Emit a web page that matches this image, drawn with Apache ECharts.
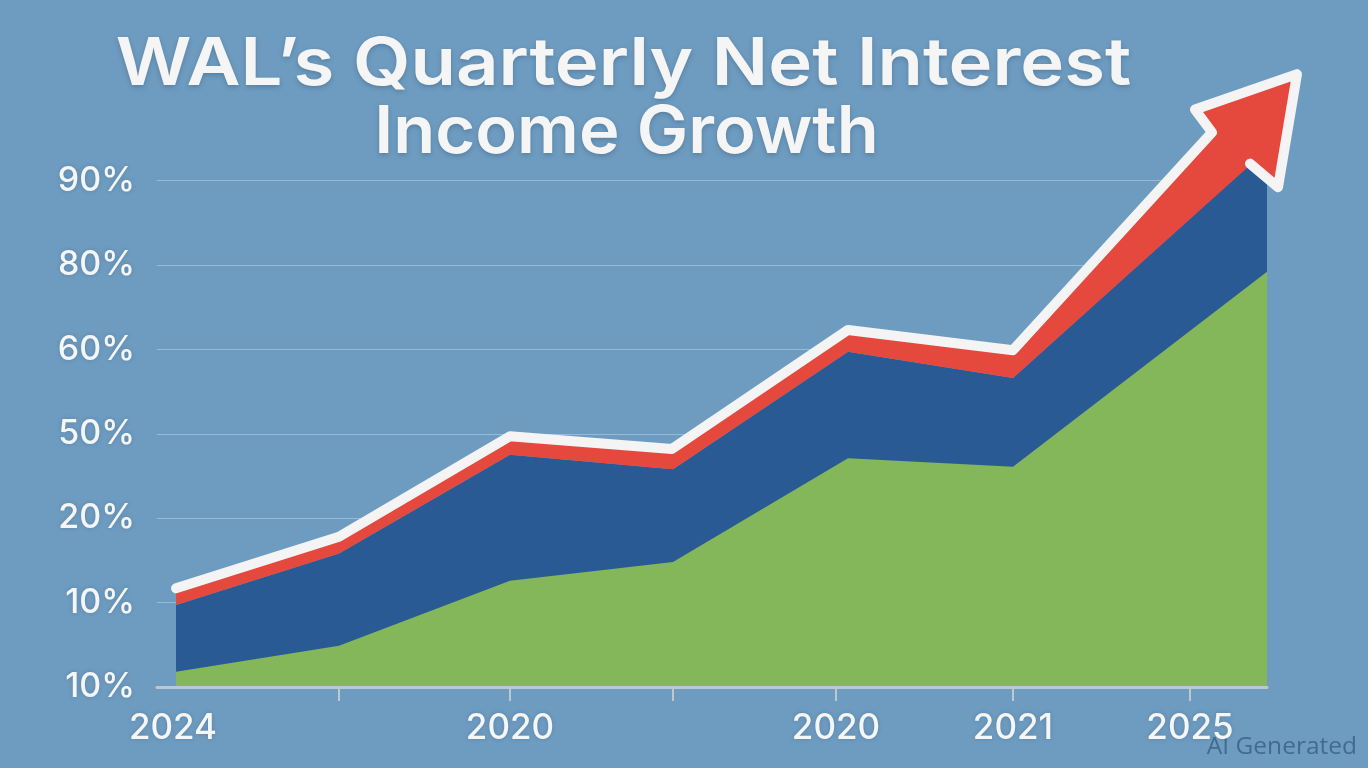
<!DOCTYPE html>
<html lang="en">

<head>
    <meta charset="UTF-8">
    <title>WAL's Quarterly Net Interest Income Growth</title>
    <script src="https://cdn.jsdelivr.net/npm/echarts@6/dist/echarts.min.js"></script>
    <style>
        html, body { margin: 0; padding: 0; background: #6e9cc0; }
    </style>
</head>

<body>
    <div id="main" style="width:1368px;height:768px"></div>
    <script>
        // y axis is evenly spaced but its labels are not, so values are in tick steps
        var yTickLabels = ['10%', '10%', '20%', '50%', '60%', '80%', '90%'];
        var xTickValues = [1.82, 3.53, 5.16, 6.79, 8.56, 10.33];
        var xLabelValues = [0.16, 3.53, 6.79, 8.56, 10.33];
        var xLabelTexts = ['2024', '2020', '2020', '2021', '2025'];

        var greenX = [0.19, 1.82, 3.53, 5.16, 6.91, 8.56, 11.10];
        var greenY = [0.18, 0.49, 1.26, 1.48, 2.71, 2.61, 4.92];
        var blueY = [0.97, 1.58, 2.75, 2.58, 3.97, 3.66, 6.37];

        // white outline: along the shaft, then round the arrow head
        var arrowX = [0.19, 1.82, 3.53, 5.15, 6.91, 8.56, 10.55, 10.38, 11.40, 11.21, 10.93];
        var arrowY = [1.17, 1.78, 2.97, 2.82, 4.23, 3.99, 6.57, 6.84, 7.26, 5.92, 6.20];
        // red underside back to the start
        var redEdgeX = [10.91, 8.56, 6.91, 5.16, 3.53, 1.82, 0.19];
        var redEdgeY = [6.16, 3.66, 3.97, 2.58, 2.75, 1.58, 0.97];

        function zip(xs, ys) {
            var out = [];
            for (var i = 0; i < xs.length; i++) {
                out.push([xs[i], ys[i]]);
            }
            return out;
        }

        var labelFont = 'Inter';
        var labelShadow = {
            color: '#f5f6f7',
            fontFamily: labelFont,
            fontWeight: 500,
            textShadowColor: 'rgba(30,60,90,0.25)',
            textShadowBlur: 4
        };

        // red fill and white outline go past the axis ends, so both are custom shapes
        function drawRed(params, api) {
            if (params.dataIndex !== 0) {
                return;
            }
            var pts = zip(arrowX.concat(redEdgeX), arrowY.concat(redEdgeY)).map(function (p) {
                return api.coord(p);
            });
            return {
                type: 'polygon',
                shape: { points: pts },
                style: { fill: '#e5493e' }
            };
        }

        function drawOutline(params, api) {
            if (params.dataIndex !== 0) {
                return;
            }
            var pts = zip(arrowX, arrowY).map(function (p) {
                return api.coord(p);
            });
            return {
                type: 'polyline',
                shape: { points: pts },
                style: {
                    fill: null,
                    stroke: '#f4f4f4',
                    lineWidth: 10,
                    lineCap: 'round',
                    lineJoin: 'round'
                }
            };
        }

        // title lines are stretched on their own, the first is much wider than the font
        function titleLine(text, x, y, scaleX) {
            return {
                type: 'text',
                x: x,
                y: y,
                scaleX: scaleX,
                z: 10,
                style: {
                    text: text,
                    textAlign: 'center',
                    textVerticalAlign: 'middle',
                    fill: '#f5f5f5',
                    font: '600 66px Inter',
                    textShadowColor: 'rgba(30,60,90,0.3)',
                    textShadowBlur: 5,
                    textShadowOffsetY: 2
                }
            };
        }

        var myChart = echarts.init(document.getElementById('main'));
        var option = {
            animation: false,
            backgroundColor: '#6e9cc0',
            title: {
                text: 'AI Generated',
                right: 6,
                top: 730,
                textStyle: {
                    color: 'rgba(45,85,130,0.7)',
                    fontFamily: 'Open Sans',
                    fontSize: 24.5,
                    fontWeight: 400
                }
            },
            graphic: [
                titleLine('WAL\u2019s Quarterly Net Interest', 623.5, 65, 1.125),
                titleLine('Income Growth', 626.5, 133, 1.04)
            ],
            grid: {
                left: 157,
                width: 1110,
                top: 180.5,
                height: 506.5
            },
            xAxis: {
                type: 'value',
                min: 0,
                max: 11.1,
                z: 6,
                splitLine: { show: false },
                axisLine: {
                    show: true,
                    onZero: false,
                    lineStyle: { color: '#bcc8cf', width: 3 }
                },
                axisTick: {
                    show: true,
                    customValues: xTickValues,
                    length: 14,
                    lineStyle: { color: '#bcc8cf', width: 2 }
                },
                axisLabel: Object.assign({
                    customValues: xLabelValues,
                    margin: 24,
                    fontSize: 35,
                    formatter: function (value) {
                        return xLabelTexts[xLabelValues.indexOf(value)];
                    }
                }, labelShadow)
            },
            yAxis: {
                type: 'value',
                min: 0,
                max: 6,
                interval: 1,
                axisLine: { show: false },
                axisTick: { show: false },
                splitLine: {
                    lineStyle: { color: 'rgba(255,255,255,0.3)', width: 1 }
                },
                axisLabel: Object.assign({
                    margin: 22,
                    fontSize: 34,
                    formatter: function (value) {
                        return yTickLabels[value];
                    }
                }, labelShadow)
            },
            series: [
                {
                    name: 'Blue',
                    type: 'line',
                    clip: false,
                    z: 2,
                    symbol: 'none',
                    lineStyle: { width: 0 },
                    areaStyle: { color: '#2a5a94', opacity: 1 },
                    data: zip(greenX, blueY)
                },
                {
                    name: 'Green',
                    type: 'line',
                    clip: false,
                    z: 3,
                    symbol: 'none',
                    lineStyle: { width: 0 },
                    areaStyle: { color: '#84b75a', opacity: 1 },
                    data: zip(greenX, greenY)
                },
                {
                    name: 'Red',
                    type: 'custom',
                    clip: false,
                    z: 4,
                    data: zip(arrowX.concat(redEdgeX), arrowY.concat(redEdgeY)),
                    encode: { x: 0, y: 1 },
                    renderItem: drawRed
                },
                {
                    name: 'Outline',
                    type: 'custom',
                    clip: false,
                    z: 5,
                    data: zip(arrowX, arrowY),
                    encode: { x: 0, y: 1 },
                    renderItem: drawOutline
                }
            ]
        };
        myChart.setOption(option);
    </script>
</body>

</html>
